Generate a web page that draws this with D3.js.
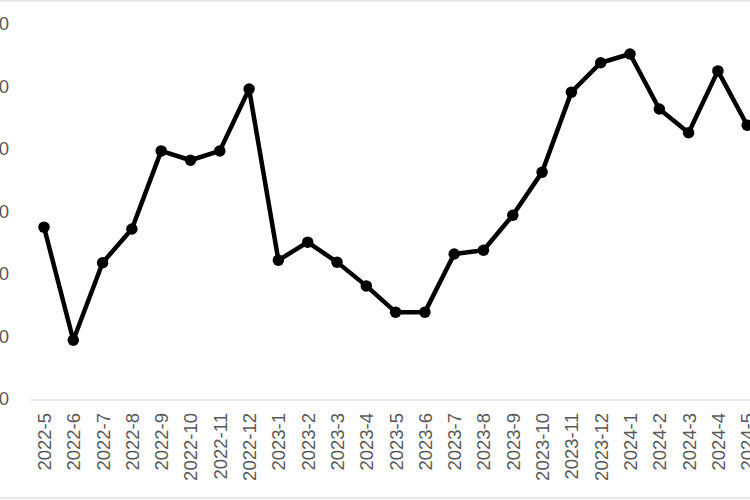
<!DOCTYPE html>
<html>
<head>
<meta charset="utf-8">
<script src="https://cdn.jsdelivr.net/npm/d3@7"></script>
<style>
  html, body { margin: 0; padding: 0; background: #fff; overflow: hidden; }
  svg { display: block; }
</style>
</head>
<body>
<svg id="chart" width="750" height="500"></svg>
<script>
const months = ["2022-5","2022-6","2022-7","2022-8","2022-9","2022-10","2022-11","2022-12",
  "2023-1","2023-2","2023-3","2023-4","2023-5","2023-6","2023-7","2023-8","2023-9","2023-10","2023-11","2023-12",
  "2024-1","2024-2","2024-3","2024-4","2024-5"];
const values = [27.5, 9.4, 21.8, 27.2, 39.7, 38.2, 39.7, 49.6,
  22.2, 25.1, 21.9, 18.1, 13.9, 13.9, 23.2, 23.8, 29.4, 36.3, 49.1, 53.8,
  55.2, 46.4, 42.6, 52.5, 43.8];
const yTicks = [0, 10, 20, 30, 40, 50, 60];

const svg = d3.select("#chart");
const W = 750, H = 500;

// chart border (light gray)
svg.append("rect").attr("x", -2).attr("y", 1).attr("width", W + 4).attr("height", 497)
  .attr("fill", "none").attr("stroke", "#d9d9d9").attr("stroke-width", 1.2);

const x = d3.scalePoint().domain(months).range([44, 747.2]);
const y = d3.scaleLinear().domain([0, 60]).range([399, 24]);

// y axis labels (clipped by the left edge, as in the reference)
const yAxis = d3.axisLeft(y).tickValues(yTicks).tickSize(0).tickPadding(0).tickFormat(d3.format("d"));
const gy = svg.append("g").attr("transform", "translate(9,0)").call(yAxis);
gy.select(".domain").remove();
gy.selectAll("text").attr("font-family", "Liberation Sans, Arial, sans-serif")
  .attr("font-size", 18.5).attr("fill", "#595959");

// x axis
const xAxis = d3.axisBottom(x).tickSize(0).tickPadding(0);
const gx = svg.append("g").attr("transform", "translate(0,400)").call(xAxis);
gx.select(".domain").remove();
gx.selectAll("text")
  .attr("font-family", "Liberation Sans, Arial, sans-serif")
  .attr("font-size", 18.5).attr("fill", "#595959")
  .attr("text-anchor", "end")
  .attr("dy", "0.35em")
  .attr("transform", "translate(0,13) rotate(-90)")
  .attr("y", 0).attr("x", 0);

svg.append("line").attr("x1", 30).attr("x2", W).attr("y1", 400).attr("y2", 400)
  .attr("stroke", "#d9d9d9").attr("stroke-width", 1.2);

// line
const data = months.map((m, i) => ({ m, v: values[i] }));
svg.append("path").datum(data)
  .attr("fill", "none").attr("stroke", "#000").attr("stroke-width", 4.5)
  .attr("stroke-linejoin", "round")
  .attr("d", d3.line().x(d => x(d.m)).y(d => y(d.v)));

svg.append("g").selectAll("circle").data(data).join("circle")
  .attr("cx", d => x(d.m)).attr("cy", d => y(d.v)).attr("r", 5.75).attr("fill", "#000");
</script>
</body>
</html>
